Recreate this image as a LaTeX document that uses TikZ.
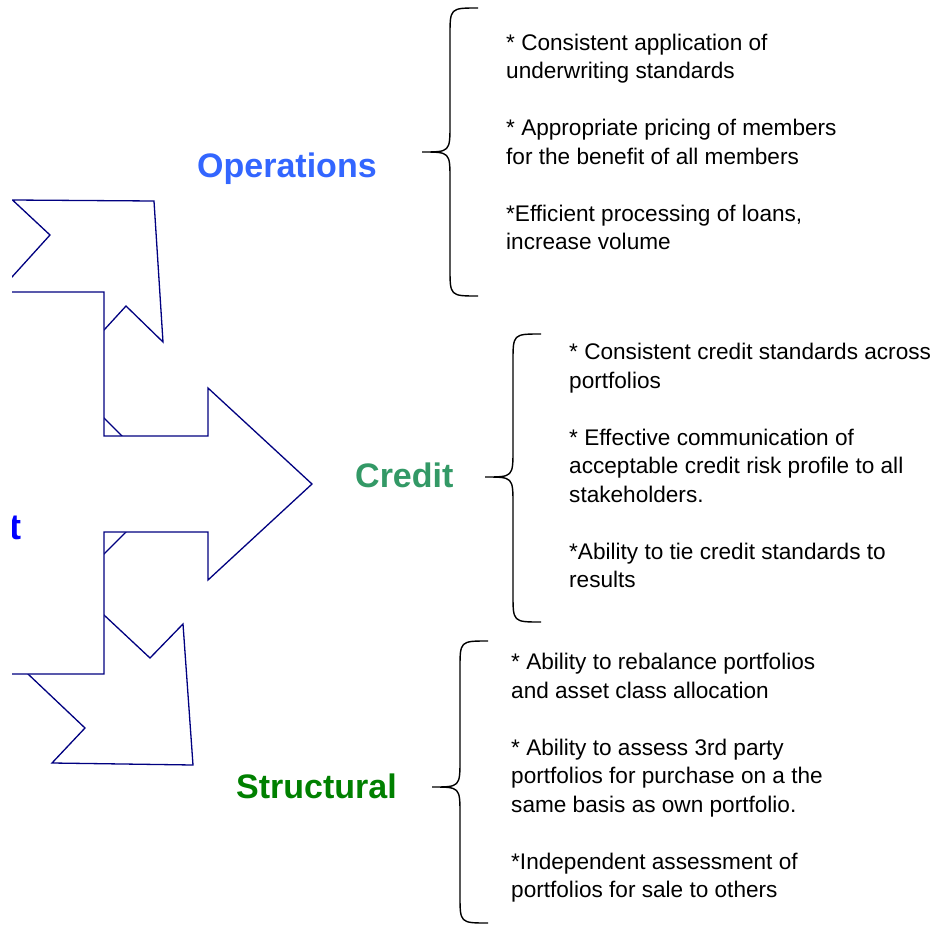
\documentclass[tikz,border=0pt]{standalone}
\usepackage{fontspec}
\setmainfont{Liberation Sans}
\definecolor{arrowline}{HTML}{000080}
\definecolor{opsblue}{HTML}{3366FF}
\definecolor{creditgreen}{HTML}{339966}
\definecolor{structgreen}{HTML}{008000}
\definecolor{hubblue}{HTML}{0000FF}
\tikzset{
    outline/.style={draw=arrowline, line width=1.3pt, fill=white},
    heading/.style={anchor=base west, inner sep=0pt, font=\fontsize{34}{40}\selectfont\bfseries},
    itemtext/.style={anchor=base west, align=left, inner sep=0pt, font=\fontsize{22.6}{28.5}\selectfont},
    curly/.style={line width=1.4pt, black}
}
\begin{document}
\begin{tikzpicture}[x=1pt, y=-1pt]
        \useasboundingbox (0,0) rectangle (935,926);
        \begin{scope}
            \clip (12,0) rectangle (935,926);
            % ---- hub behind the arrows ----
            \draw[outline] (172,486) -- (-28,286) -- (-228,486) -- (-28,686) -- cycle;
            % ---- arrow to the upper right ----
            \draw[outline] (154,201) -- (163,342) -- (126,306) -- (40,400)
                -- (-36,330) -- (50,235) -- (12.5,200) -- cycle;
            % ---- arrow to the lower right ----
            \draw[outline] (193,765) -- (52,763) -- (85,728) -- (-48,602)
                -- (16,533) -- (104,615) -- (150,658) -- (183,624) -- cycle;
            % ---- arrow to the right ----
            \draw[outline] (-10,292) -- (104,292) -- (104,436) -- (208,436) -- (208,388)
                -- (312,484) -- (208,580) -- (208,532) -- (104,532) -- (104,674) -- (-10,674) -- cycle;
            % ---- hub title, cut at the edge ----
            \node[heading, font=\fontsize{36}{40}\selectfont\bfseries, text=hubblue, anchor=base east] (hub) at (22,539) {t};
        \end{scope}
        % ---- headings ----
        \node[heading, text=opsblue] (ops) at (197,177) {Operations};
        \node[heading, text=creditgreen] (credit) at (355,487) {Credit};
        \node[heading, text=structgreen] (structural) at (236,798) {Structural};
        % ---- braces ----
        \foreach \bx/\btop/\btip/\bbot in {450/8/152/296, 513/334/477/622, 460/641/787/923} {
            \draw[curly] (\bx+28,\btop) .. controls (\bx,\btop) .. (\bx,\btop+28)
                -- (\bx,\btip-28) .. controls (\bx,\btip) .. (\bx-28,\btip)
                .. controls (\bx,\btip) .. (\bx,\btip+28)
                -- (\bx,\bbot-28) .. controls (\bx,\bbot) .. (\bx+28,\bbot);
        }
        % ---- bullet lists (anchored at the last line) ----
        \node[itemtext] (opsitems) at (506,249.5) {* Consistent application of\\
            underwriting standards\\[28.5pt]
            * Appropriate pricing of members\\
            for the benefit of all members\\[28.5pt]
            *Efficient processing of loans,\\
            increase volume};
        \node[itemtext] (credititems) at (569,587.5) {* Consistent credit standards across\\
            portfolios\\[28.5pt]
            * Effective communication of\\
            acceptable credit risk profile to all\\
            stakeholders.\\[28.5pt]
            *Ability to tie credit standards to\\
            results};
        \node[itemtext] (structitems) at (511,897.5) {* Ability to rebalance portfolios\\
            and asset class allocation\\[28.5pt]
            * Ability to assess 3rd party\\
            portfolios for purchase on a the\\
            same basis as own portfolio.\\[28.5pt]
            *Independent assessment of\\
            portfolios for sale to others};
    \end{tikzpicture}
\end{document}
